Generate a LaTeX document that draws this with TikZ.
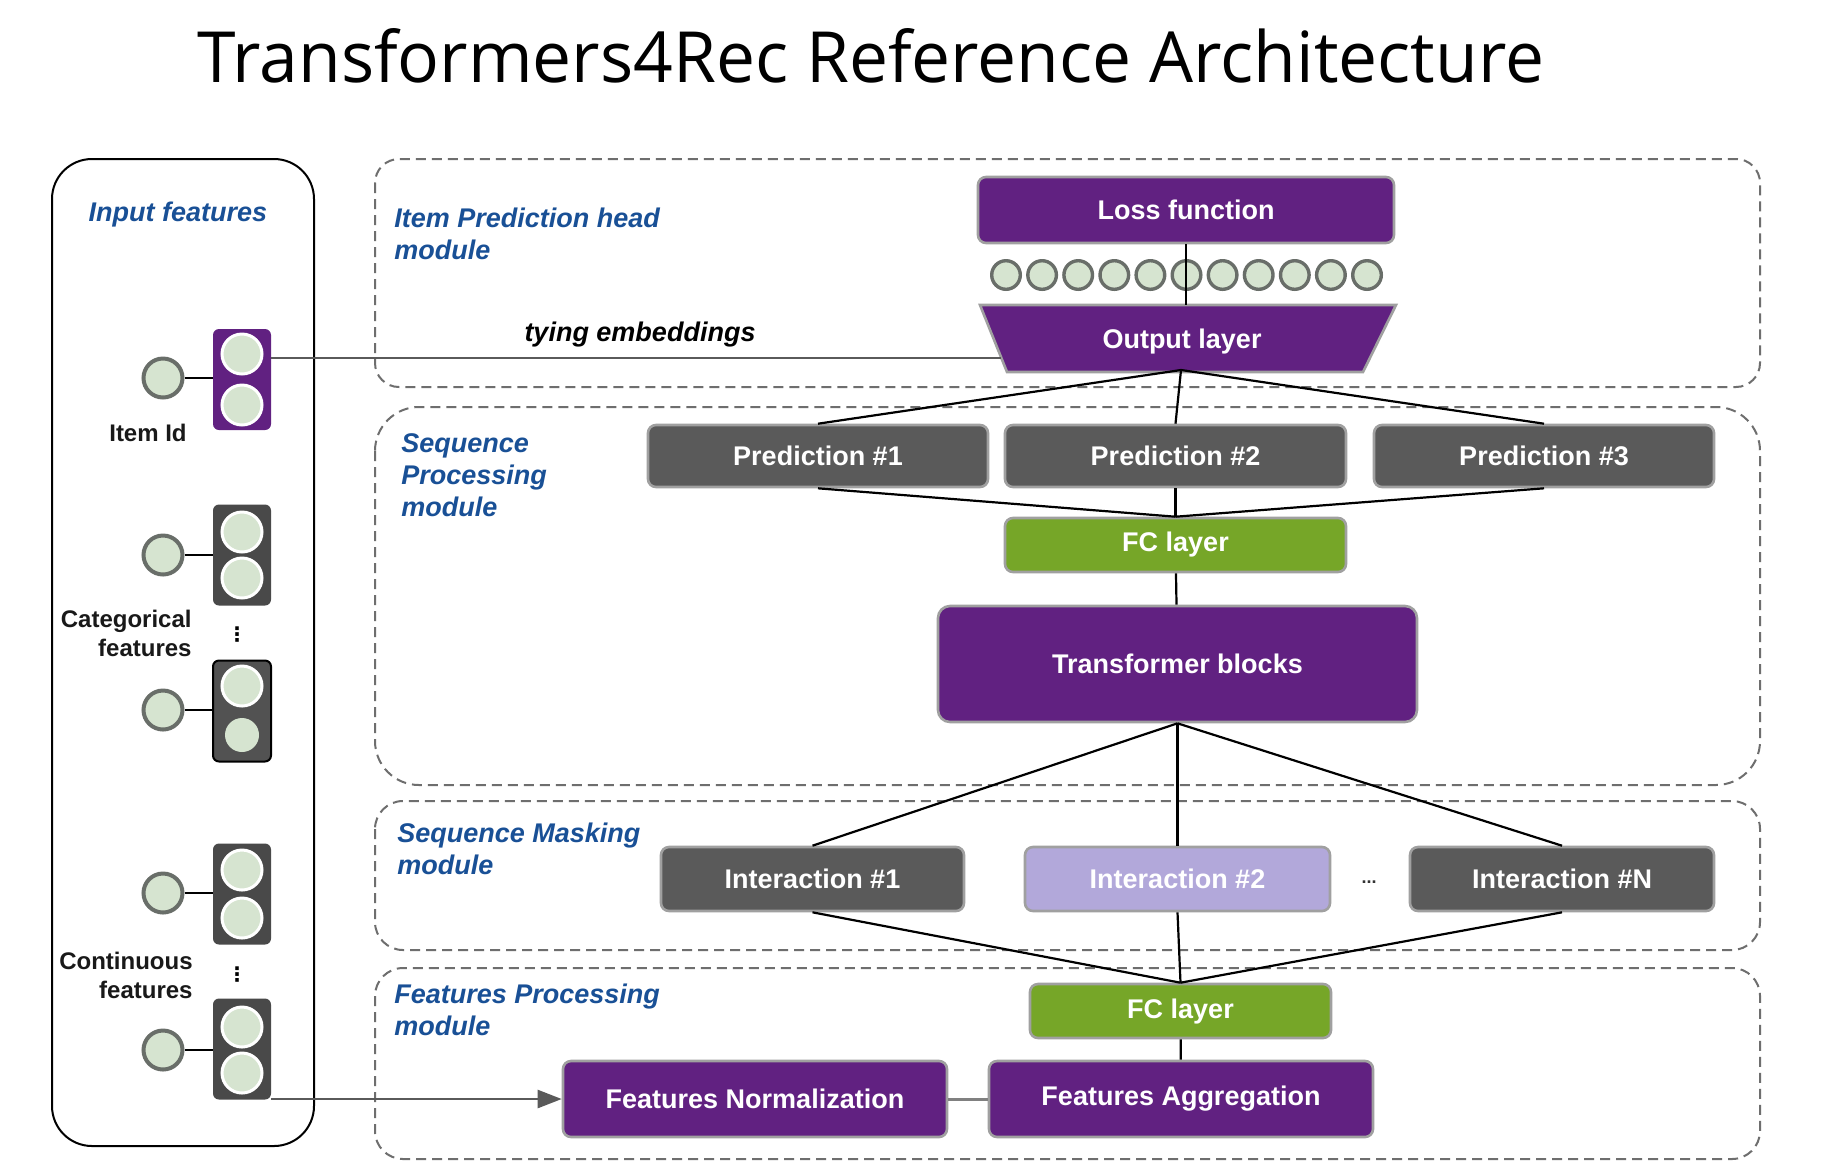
\documentclass[tikz,border=0pt]{standalone}
\usepackage{fontspec}
\setmainfont{Liberation Sans}
\newfontfamily\titlefont{Open Sans}
\newfontfamily\symfont{DejaVu Sans}
\usetikzlibrary{arrows.meta,calc}
\definecolor{purp}{RGB}{97,33,129}
\definecolor{dgrey}{RGB}{90,90,90}
\definecolor{fcgreen}{RGB}{118,166,40}
\definecolor{lav}{RGB}{178,168,218}
\definecolor{cfill}{RGB}{214,228,208}
\definecolor{cstroke}{RGB}{105,110,105}
\definecolor{lblue}{RGB}{25,80,150}
\definecolor{nborder}{RGB}{160,160,160}
\definecolor{modgrey}{RGB}{110,110,110}
\begin{document}
\begin{tikzpicture}[x=0.5pt,y=-0.5pt,
  box/.style={rounded corners=4pt, draw=nborder, line width=1.3pt, text=white,
    font=\bfseries\fontsize{13.5}{16}\selectfont, inner sep=0pt},
  purplebox/.style={box, fill=purp},
  greybox/.style={box, fill=dgrey},
  greenbox/.style={box, fill=fcgreen},
  lavbox/.style={box, fill=lav},
  module/.style={draw=modgrey, dash pattern=on 5pt off 3pt, line width=1pt},
  modlabel/.style={text=lblue, font=\bfseries\itshape\fontsize{13.5}{16}\selectfont,
    align=left, anchor=north west, inner sep=0pt},
  blacklabel/.style={text=black!90, font=\bfseries\fontsize{12}{14.5}\selectfont, inner sep=0pt},
  vdotlabel/.style={inner sep=0pt, font=\symfont\bfseries\fontsize{10}{10}\selectfont},
  feat/.style={circle, draw=cstroke, fill=cfill, line width=2pt, minimum size=19.5pt, inner sep=0pt},
  emb/.style={circle, draw=white, fill=cfill, line width=1.5pt, minimum size=20pt, inner sep=0pt},
  embbox/.style={rounded corners=3pt, minimum width=29pt, minimum height=50.5pt, inner sep=0pt},
  outc/.style={circle, draw=cstroke, fill=cfill, line width=1.7pt, minimum size=14.3pt, inner sep=0pt},
  conn/.style={draw=black, line width=1.1pt},
  greyline/.style={draw=dgrey, line width=1.2pt}
]
\useasboundingbox (0,0) rectangle (1824,1174);
\fill[white] (0,0) rectangle (1824,1174);

% title
\node[inner sep=0pt, anchor=base] (title) at (871,82)
  {\resizebox{673pt}{27pt}{\titlefont Transformers4Rec Reference Architecture}};

% module frames
\draw[module, rounded corners=12pt] (375,159) rectangle (1760,387);
\draw[module, rounded corners=22pt] (375,407) rectangle (1760,785);
\draw[module, rounded corners=14pt] (375,801) rectangle (1760,950);
\draw[module, rounded corners=14pt] (375,968) rectangle (1760,1159);

\node[modlabel] (lab1) at (394,208) {Item Prediction head\\module};
\node[modlabel] (lab2) at (401,433) {Sequence\\Processing\\module};
\node[modlabel] (lab3) at (397,823) {Sequence Masking\\module};
\node[modlabel] (lab4) at (394,984) {Features Processing\\module};

% input panel
\draw[line width=1pt, rounded corners=20pt] (52,159) rectangle (314,1146);
\node[text=lblue, font=\bfseries\itshape\fontsize{13.5}{16}\selectfont, inner sep=0pt] (inlab) at (178,215) {Input features};

% item id
\node[embbox, fill=purp] (e1) at (242,379.5) {};
\node[emb] (e1a) at (242,354) {};
\node[emb] (e1b) at (242,405) {};
\node[feat] (f1) at (163,378) {};
\draw[conn] (f1) -- (f1 -| e1.west);
\node[blacklabel] (l1) at (148,433) {Item Id};

% categorical
\node[embbox, fill=dgrey!110] (e2) at (242,555) {};
\node[emb] (e2a) at (242,532) {};
\node[emb] (e2b) at (242,578) {};
\node[feat] (f2) at (163,555) {};
\draw[conn] (f2) -- (f2 -| e2.west);
\node[embbox, fill=black!68, draw=black, line width=1pt] (e3) at (242,711) {};
\node[emb] (e3a) at (242,686) {};
\node[circle, fill=cfill, minimum size=17pt, inner sep=0pt] (e3b) at (242,735) {};
\node[feat] (f3) at (163,710) {};
\draw[conn] (f3) -- (f3 -| e3.west);
\node[blacklabel, align=right, anchor=north east] (l2) at (192,610) {Categorical\\features};
\node[vdotlabel] (d1) at (237,635) {⋮};

% continuous
\node[embbox, fill=dgrey!110] (e4) at (242,894) {};
\node[emb] (e4a) at (242,870) {};
\node[emb] (e4b) at (242,918) {};
\node[feat] (f4) at (163,893) {};
\draw[conn] (f4) -- (f4 -| e4.west);
\node[embbox, fill=dgrey!110] (e5) at (242,1049) {};
\node[emb] (e5a) at (242,1027) {};
\node[emb] (e5b) at (242,1073) {};
\node[feat] (f5) at (163,1050) {};
\draw[conn] (f5) -- (f5 -| e5.west);
\node[blacklabel, align=right, anchor=north east] (l3) at (193,952) {Continuous\\features};
\node[vdotlabel] (d2) at (237,975) {⋮};

% item prediction head
\node[purplebox, minimum width=208pt, minimum height=33pt] (loss) at (1186,210) {Loss function};
\foreach \i in {0,...,10} \node[outc] (oc\i) at ({1006+36.1*\i},275) {};
\coordinate (olc) at (1186,338.5);
\coordinate (oltl) at ($(olc)+(-206,-33.5)$);
\coordinate (oltr) at ($(olc)+(210,-33.5)$);
\coordinate (olbr) at ($(olc)+(177,33.5)$);
\coordinate (olbl) at ($(olc)+(-179,33.5)$);
\path[fill=purp, draw=nborder, line width=1.3pt] (oltl) -- (oltr) -- (olbr) -- (olbl) -- cycle;
\node[inner sep=0pt, minimum width=208pt, minimum height=33.5pt, text=white,
  font=\bfseries\fontsize{13.5}{16}\selectfont] (ol) at ($(olc)+(-4,3)$) {Output layer};
\draw[conn] (loss.south) -- (loss.south |- oltl);
\coordinate (tie) at ($(oltl)!0.79!(olbl)$);
\draw[greyline] (e1.east |- tie) -- (tie);
\node[font=\bfseries\itshape\fontsize{13.5}{16}\selectfont, inner sep=0pt] (tylab) at (640,335) {tying embeddings};

% sequence processing
\node[greybox, minimum width=170pt, minimum height=31pt] (p1) at (818,456) {Prediction \#1};
\node[greybox, minimum width=170.5pt, minimum height=31pt] (p2) at (1175.5,456) {Prediction \#2};
\node[greybox, minimum width=170pt, minimum height=31pt] (p3) at (1544,456) {Prediction \#3};
\node[greenbox, minimum width=170.5pt, minimum height=27pt] (fc1) at (1175.5,545) {FC layer};
\node[purplebox, rounded corners=6pt, minimum width=239.5pt, minimum height=58pt] (tb) at (1177.5,664) {Transformer blocks};
\coordinate (olout) at (1181,370);
\draw[conn] (olout) -- (p1.north);
\draw[conn] (olout) -- (p2.north);
\draw[conn] (olout) -- (p3.north);
\draw[conn] (p1.south) -- (fc1.north);
\draw[conn] (p2.south) -- (fc1.north);
\draw[conn] (p3.south) -- (fc1.north);
\draw[conn] (fc1) -- (tb);

% sequence masking
\node[greybox, minimum width=151.5pt, minimum height=32pt] (i1) at (812.5,879) {Interaction \#1};
\node[lavbox, minimum width=152.5pt, minimum height=32pt] (i2) at (1177.5,879) {Interaction \#2};
\node[greybox, minimum width=152pt, minimum height=32pt] (iN) at (1562,879) {Interaction \#N};
\node[inner sep=0pt, font=\bfseries\fontsize{9}{10}\selectfont, text=black!80] (dots) at (1369,882) {...};
\draw[conn] (tb.south) -- (i1.north);
\draw[conn] (tb.south) -- (i2.north);
\draw[conn] (tb.south) -- (iN.north);

% features processing
\node[greenbox, minimum width=150.5pt, minimum height=27pt] (fc2) at (1180.5,1011) {FC layer};
\node[purplebox, minimum width=192pt, minimum height=38pt] (fa) at (1181,1099) {Features Aggregation};
\node[purplebox, minimum width=192pt, minimum height=38pt] (fn) at (755,1099) {Features Normalization};
\draw[conn] (i1.south) -- (fc2.north);
\draw[conn] (i2.south) -- (fc2.north);
\draw[conn] (iN.south) -- (fc2.north);
\draw[conn] (fc2) -- (fa);
\draw[draw=gray, line width=1.5pt] (fn) -- (fa);
\draw[greyline, -{Triangle[length=12pt,width=9pt]}] (e5.east |- fn.west) -- (fn.west);
\end{tikzpicture}
\end{document}
